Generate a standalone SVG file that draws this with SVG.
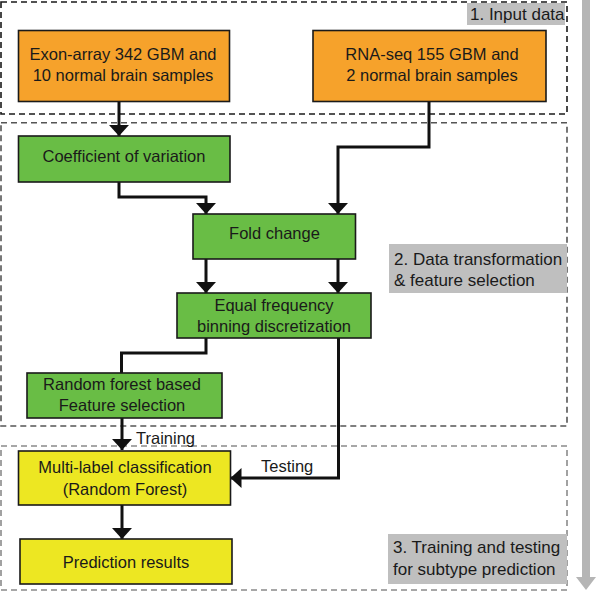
<svg xmlns="http://www.w3.org/2000/svg" width="600" height="592" viewBox="0 0 600 592">
<style>
  .t { font-family: "Liberation Sans", Arial, sans-serif; font-size: 16.5px; fill: #1a1a1a; text-anchor: middle; }
  .l { font-family: "Liberation Sans", Arial, sans-serif; font-size: 17px; fill: #1a1a1a; }
  .s { font-family: "Liberation Sans", Arial, sans-serif; font-size: 16.5px; fill: #1a1a1a; }
  .box { stroke: #1a1a1a; stroke-width: 1.6; }
  .orange { fill: #F6A22B; }
  .green { fill: #69BD45; }
  .yellow { fill: #EDE722; }
  .lab { fill: #BFBFBF; }
  .sec { fill: none; stroke-width: 1.6; stroke-dasharray: 6 4; }
  .conn { fill: none; stroke: #111; stroke-width: 3; stroke-linejoin: miter; }
</style>
<defs>
  <marker id="ah" markerUnits="userSpaceOnUse" markerWidth="14" markerHeight="22" viewBox="0 -11 12 22" refX="11" refY="0" orient="auto">
    <path d="M0,-10 L11,0 L0,10 z" fill="#111"/>
  </marker>
</defs>

<!-- side gray arrow -->
<g id="progress-arrow">
  <rect x="582" y="0" width="8" height="577" fill="#B5B5B5"/>
  <polygon points="576,577 596,577 586,590" fill="#B5B5B5"/>
</g>

<!-- sections -->
<g id="section1">
  <rect class="sec" x="1" y="2" width="566" height="112" stroke="#1a1a1a"/>
  <rect class="lab" x="467" y="3" width="98" height="22"/>
  <text class="l" x="470" y="20">1. Input data</text>
</g>
<g id="section2">
  <rect class="sec" x="1" y="122.7" width="566" height="303.3" stroke="#555"/>
  <rect class="lab" x="389" y="244" width="178" height="49"/>
  <text class="l" x="394" y="265">2. Data transformation</text>
  <text class="l" x="394" y="286">&amp; feature selection</text>
</g>
<g id="section3">
  <rect class="sec" x="1" y="446" width="566" height="144" stroke="#8a8a8a"/>
  <rect class="lab" x="388" y="534" width="179" height="50"/>
  <text class="l" x="393" y="553">3. Training and testing</text>
  <text class="l" x="393" y="575">for subtype prediction</text>
</g>

<!-- connectors -->
<g id="connectors">
  <path class="conn" d="M119,102 V136" marker-end="url(#ah)"/>
  <path class="conn" d="M429,102 V147 H338 V214" marker-end="url(#ah)"/>
  <path class="conn" d="M119,182 V197 H206 V214" marker-end="url(#ah)"/>
  <path class="conn" d="M206,259 V293" marker-end="url(#ah)"/>
  <path class="conn" d="M338,259 V293" marker-end="url(#ah)"/>
  <path class="conn" d="M206,338 V353 H121.5 V373"/>
  <path class="conn" d="M122,418 V450" marker-end="url(#ah)"/>
  <path class="conn" d="M338.5,338 V478 H230.5" marker-end="url(#ah)"/>
  <path class="conn" d="M122,505 V539" marker-end="url(#ah)"/>
  <text class="s" x="136" y="443.5">Training</text>
  <text class="s" x="261" y="471.5">Testing</text>
</g>

<!-- nodes -->
<g id="exon-array">
  <rect class="box orange" x="18.5" y="30.5" width="211" height="71"/>
  <text class="t" x="123" y="60">Exon-array 342 GBM and</text>
  <text class="t" x="123" y="81">10 normal brain samples</text>
</g>
<g id="rna-seq">
  <rect class="box orange" x="313" y="30.5" width="233" height="71"/>
  <text class="t" x="432" y="60">RNA-seq 155 GBM and</text>
  <text class="t" x="432" y="81">2 normal brain samples</text>
</g>
<g id="coefficient">
  <rect class="box green" x="18.5" y="136" width="211.5" height="46"/>
  <text class="t" x="124" y="162">Coefficient of variation</text>
</g>
<g id="fold-change">
  <rect class="box green" x="193" y="214" width="162.5" height="45"/>
  <text class="t" x="274.5" y="239">Fold change</text>
</g>
<g id="equal-frequency">
  <rect class="box green" x="177" y="293" width="194" height="45"/>
  <text class="t" x="274" y="311">Equal frequency</text>
  <text class="t" x="274" y="332">binning discretization</text>
</g>
<g id="random-forest-fs">
  <rect class="box green" x="27" y="373" width="195" height="45"/>
  <text class="t" x="122" y="390">Random forest based</text>
  <text class="t" x="122" y="411">Feature selection</text>
</g>
<g id="multi-label">
  <rect class="box yellow" x="18.5" y="451" width="212" height="54"/>
  <text class="t" x="125" y="473">Multi-label classification</text>
  <text class="t" x="125" y="495">(Random Forest)</text>
</g>
<g id="prediction">
  <rect class="box yellow" x="20" y="539" width="212" height="45"/>
  <text class="t" x="126" y="568">Prediction results</text>
</g>
</svg>
